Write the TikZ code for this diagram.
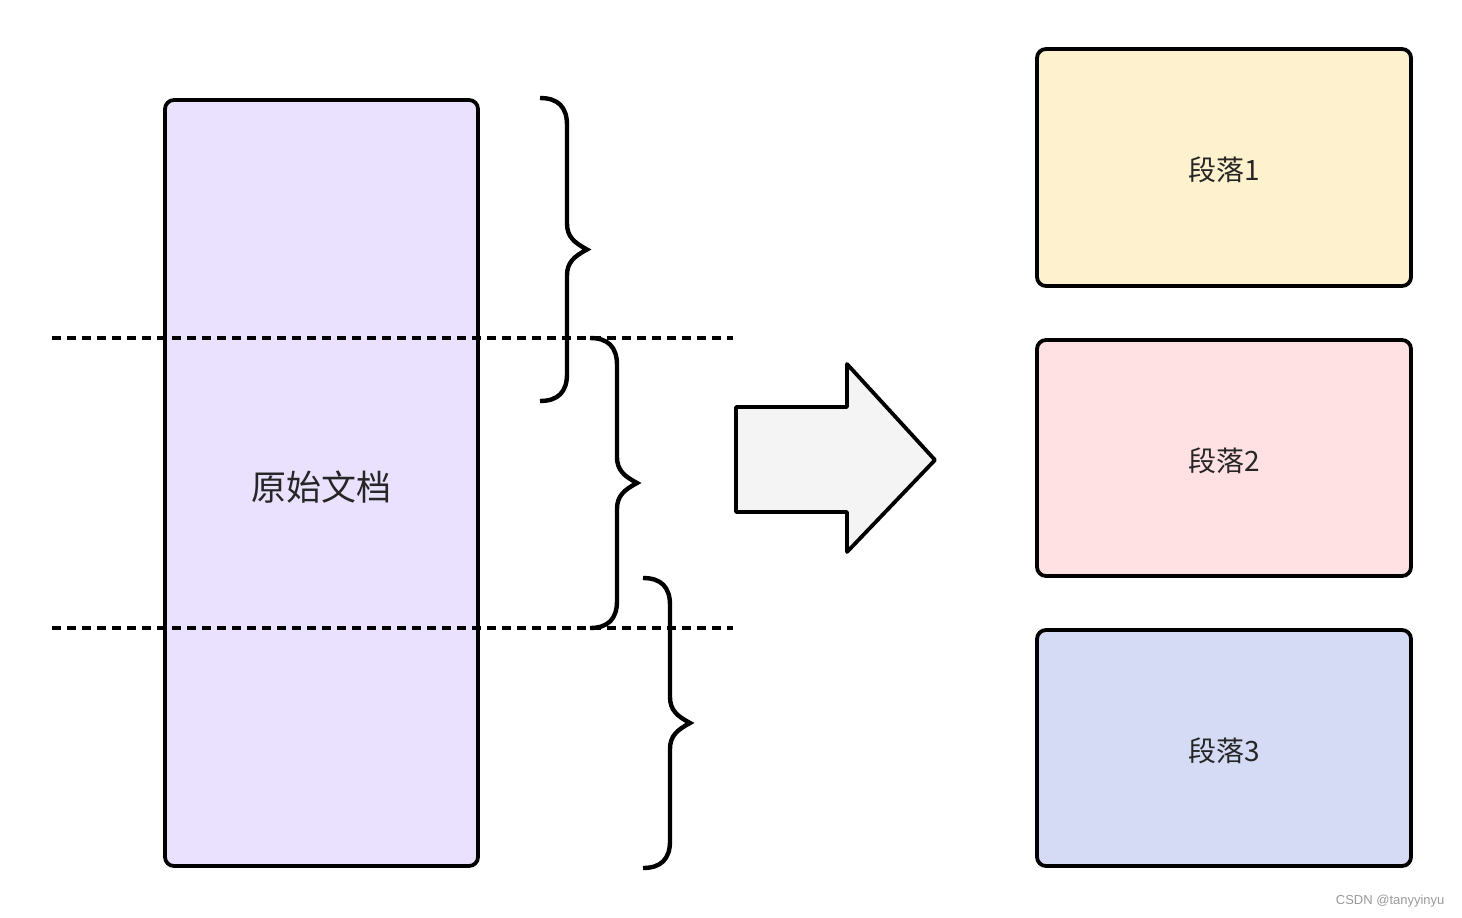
\documentclass[tikz,border=0pt]{standalone}
\usepackage{fontspec}
\newfontfamily\cjk{Noto Sans CJK SC}
\newfontfamily\wm{Liberation Sans}
\definecolor{docfill}{HTML}{E9E1FE}
\definecolor{p1fill}{HTML}{FEF1CE}
\definecolor{p2fill}{HTML}{FFE1E4}
\definecolor{p3fill}{HTML}{D6DBF5}
\definecolor{arrowfill}{HTML}{F4F4F4}
\definecolor{txt}{HTML}{262626}
\tikzset{
  box/.style={draw=black, line width=3.8pt, rounded corners=9pt},
  cut/.style={draw=black, line width=3.6pt, dash pattern=on 9pt off 6pt},
  bracepath/.style={draw=black, line width=4.4pt, line join=miter, line cap=butt},
  lbl/.style={font=\cjk, text=txt},
}
\begin{document}
\begin{tikzpicture}[x=1pt,y=-1pt]
\useasboundingbox (0,0) rectangle (1462,918);
% original document
\draw[box, fill=docfill] (165,100) rectangle (478,866);
\node[lbl, font=\cjk\fontsize{35}{40}\selectfont] (doc) at (321.5,487) {原始文档};
% cut lines
\draw[cut] (52,338) -- (733,338);
\draw[cut] (52,628) -- (733,628);
% braces
\foreach \xs/\yt/\yb in {540/98/401, 590/338/628, 643/578/868}{
  \pgfmathsetmacro{\ym}{(\yt+\yb)/2}
  \draw[bracepath] (\xs,\yt) .. controls (\xs+18,\yt) and (\xs+27,\yt+9) .. (\xs+27,\yt+27)
    -- (\xs+27,\ym-26)
    .. controls (\xs+27,\ym-13) and (\xs+34,\ym-7) .. (\xs+47,\ym)
    .. controls (\xs+34,\ym+7) and (\xs+27,\ym+13) .. (\xs+27,\ym+26)
    -- (\xs+27,\yb-27)
    .. controls (\xs+27,\yb-9) and (\xs+18,\yb) .. (\xs,\yb);
}
% big arrow
\draw[line width=3.8pt, line join=round, fill=arrowfill]
  (736,407) -- (847,407) -- (847,364) -- (935,460) -- (847,552) -- (847,512) -- (736,512) -- cycle;
% paragraphs
\draw[box, fill=p1fill] (1037,49) rectangle (1411,286);
\node[lbl, font=\cjk\fontsize{28}{32}\selectfont] (p1) at (1224,170) {段落1};
\draw[box, fill=p2fill] (1037,340) rectangle (1411,576);
\node[lbl, font=\cjk\fontsize{28}{32}\selectfont] (p2) at (1224,461) {段落2};
\draw[box, fill=p3fill] (1037,630) rectangle (1411,866);
\node[lbl, font=\cjk\fontsize{28}{32}\selectfont] (p3) at (1224,751) {段落3};
% watermark
\node[font=\wm\fontsize{13}{15}\selectfont, text=black!40, anchor=east] (wm) at (1448,901) {CSDN @tanyyinyu};
\end{tikzpicture}
\end{document}
